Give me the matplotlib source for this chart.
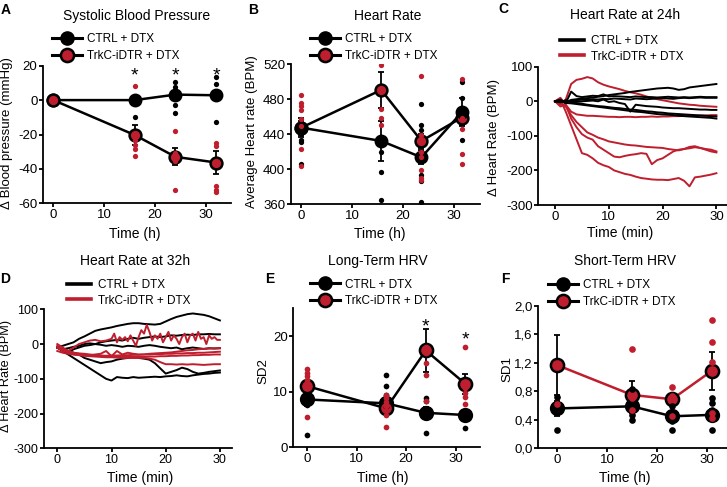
import matplotlib
matplotlib.use('Agg')
import matplotlib.pyplot as plt
from matplotlib.lines import Line2D

plt.rcParams['font.family'] = ['Liberation Sans', 'DejaVu Sans']
plt.rcParams['axes.unicode_minus'] = False

RED = '#be1e2d'
W, H = 727, 487

# ---------------- Panel A: systolic blood pressure ----------------
A_time = [0, 16, 24, 32]
A_ctrl_mean = [0, 0, 3.2, 2.8]
A_ctrl_sem = [0, 0, 0, 0]
A_trk_mean = [0, -20.3, -33.0, -36.3]
A_trk_sem = [0, 5.7, 4.9, 6.5]
A_ctrl_pts = [[], [-9.7], [10.3, 7.8, 5.5, -2.9, -7.4], [13.2, 9.3, 3.0, -12.6]]
A_trk_pts = [[], [8.2, -20, -23.3, -26.2, -28.2, -32.6], [-17.9, -31, -33.4, -35.3, -52],
             [-25.2, -26.8, -50, -52, -53.4]]
A_star_t = [16, 24, 32]
A_star_y = [17.9, 17.9, 17.9]

# ---------------- Panel B: heart rate ----------------
B_time = [0, 15.7, 23.6, 31.5]
B_ctrl_mean = [447.6, 432.4, 413.7, 465]
B_ctrl_sem = [8, 23, 8, 16]
B_trk_mean = [447.6, 490.7, 432.4, 459]
B_trk_sem = [10.5, 21, 8, 8]
B_ctrl_pts = [[447, 440, 434, 431, 406], [437, 431, 420, 397, 365],
              [475, 451, 445, 394, 387, 363], [500, 481, 468, 433]]
B_trk_pts = [[485, 476, 472, 468, 458, 449, 423, 404], [519, 469, 459, 451],
             [507, 439, 435, 432, 420, 414, 399, 390, 388], [503, 459, 446, 418, 406]]

# ---------------- Panel C: Δ heart rate at 24h ----------------
C_min = [0, 1, 2, 3, 4, 5, 6, 7, 8, 9, 10, 11, 12, 13, 14, 15, 16, 17, 18, 19, 20,
         21, 22, 23, 24, 25, 26, 27, 28, 29, 30]
C_ctrl = [
    [0, 2, -3, 4, 6, 8, 9, 11, 13, 15, 18, 20, 22, 24, 27, 29, 31, 33, 35, 37, 38, 39, 37, 33, 35, 40, 42, 44, 46, 48, 50],
    [0, 5, -5, 28, 15, 12, 14, 16, 15, 20, 14, 15, 14, 13, 12, 14, 13, 12, 12, 11, 12, 13, 12, 11, 12, 11, 12, 13, 12, 12, 12],
    [0, 2, -4, 2, 3, 5, 4, 6, 5, 7, 6, 8, 7, 6, 5, 8, 7, 6, 7, 8, 9, 8, 7, 9, 10, 9, 10, 11, 10, 10, 10],
    [0, -3, 2, -2, -1, 0, 1, 2, 0, 5, -2, 0, -5, -8, -30, -10, -12, -14, -15, -16, -18, -19, -20, -20, -21, -22, -23, -24, -24, -25, -25],
    [0, -2, 3, -3, -5, -7, -10, -12, -14, -15, -17, -19, -20, -22, -24, -25, -27, -29, -30, -32, -33, -35, -36, -37, -38, -39, -40, -41, -42, -43, -44],
    [0, 2, -5, -6, -8, -10, -12, -14, -16, -18, -20, -22, -24, -26, -28, -30, -31, -33, -35, -37, -38, -39, -40, -42, -43, -44, -45, -46, -47, -48, -50],
]
C_trk = [
    [0, -10, 5, 50, 62, 65, 70, 66, 55, 48, 43, 39, 35, 30, 26, 23, 19, 14, 10, 6, 3, 0, -3, -6, -8, -10, -11, -13, -14, -15, -16],
    [0, -15, -10, -30, -38, -40, -42, -42, -43, -44, -45, -45, -46, -45, -45, -46, -45, -45, -44, -45, -44, -44, -43, -43, -42, -42, -42, -41, -41, -40, -40],
    [0, -5, -15, -40, -60, -75, -90, -97, -105, -110, -116, -119, -122, -125, -127, -128, -130, -132, -133, -134, -135, -138, -140, -142, -138, -132, -130, -135, -140, -145, -148],
    [0, 10, -10, -50, -75, -95, -105, -111, -130, -140, -150, -160, -162, -158, -155, -153, -150, -152, -182, -170, -165, -155, -145, -140, -138, -136, -133, -135, -138, -140, -145],
    [0, 5, -30, -70, -110, -150, -155, -165, -178, -185, -190, -200, -205, -210, -213, -218, -222, -224, -226, -227, -227, -228, -225, -222, -230, -246, -220, -218, -215, -212, -208],
]

# ---------------- Panel D: Δ heart rate at 32h ----------------
D_min = C_min
D_ctrl = [
    [-10, -5, 0, 5, 15, 22, 30, 38, 42, 45, 48, 52, 55, 58, 60, 60, 58, 57, 56, 58, 65, 72, 78, 82, 86, 88, 86, 84, 80, 74, 68],
    [-10, -15, -12, -8, -5, 0, 2, 0, 5, 8, 10, 12, 10, 15, 18, 15, 18, 20, 22, 20, 22, 25, 24, 26, 27, 26, 28, 28, 29, 28, 28],
    [-10, -20, -25, -15, -10, -5, -3, 0, -2, -5, -3, -5, -8, -5, -6, -8, -5, -3, -5, -8, -10, -12, -10, -15, -12, -10, -12, -14, -12, -13, -12],
    [-10, -20, -30, -40, -50, -60, -70, -80, -90, -100, -105, -95, -97, -98, -95, -97, -96, -95, -94, -95, -93, -92, -90, -92, -93, -90, -88, -86, -85, -83, -82],
    [-10, -15, -20, -25, -30, -40, -45, -50, -55, -52, -50, -45, -42, -40, -38, -40, -42, -45, -55, -70, -85, -80, -75, -68, -72, -80, -85, -83, -80, -78, -76],
]
D_zig_min = [0, 1, 2, 3, 4, 5, 6, 7, 8, 9, 10, 10.5, 11, 11.5, 12, 12.5, 13, 13.5, 14, 14.5, 15,
             15.5, 16, 16.5, 17, 17.5, 18, 18.5, 19, 19.5, 20, 20.5, 21, 21.5, 22, 22.5, 23, 23.5,
             24, 24.5, 25, 25.5, 26, 26.5, 27, 27.5, 28, 28.5, 29, 29.5, 30]
D_zig = [-10, -15, -20, -10, 0, 5, 10, 12, 8, 10, 15, 30, 5, 20, 12, 20, 8, 25, 10, -5, 20,
         40, 30, 55, 35, 10, 25, 15, 30, 5, 20, 35, 10, 25, 15, 0, 20, 30, 5, 25, 30,
         10, 35, 15, 20, 0, 25, 15, 20, 12, 12]
D_trk = [
    [0, -10, -20, -25, -28, -30, -32, -30, -28, -20, -35, -20, -30, -25, -28, -30, -30, -28, -27, -26, -25, -24, -22, -20, -18, -17, -15, -14, -13, -12, -12],
    [-5, -15, -25, -30, -32, -34, -35, -36, -37, -38, -38, -39, -40, -40, -40, -40, -40, -42, -45, -52, -58, -58, -59, -58, -59, -58, -59, -60, -59, -58, -58],
    [-10, -20, -22, -25, -27, -28, -30, -32, -33, -34, -35, -35, -36, -36, -36, -37, -37, -36, -36, -35, -35, -34, -34, -33, -33, -32, -32, -31, -31, -30, -30],
    [-20, -25, -28, -30, -31, -32, -33, -33, -34, -34, -33, -33, -32, -32, -31, -31, -30, -30, -29, -29, -28, -28, -27, -27, -26, -26, -25, -25, -24, -23, -22],
]

# ---------------- Panel E: long-term HRV (SD2) ----------------
E_time = [0, 16, 24, 32]
E_ctrl_mean = [8.6, 7.9, 6.2, 5.8]
E_ctrl_sem = [1.2, 0.8, 1.0, 0.5]
E_trk_mean = [11.0, 7.0, 17.4, 11.4]
E_trk_sem = [1.0, 0.8, 3.8, 1.8]
E_ctrl_pts = [[7.6, 2.2], [13, 11, 9.4, 8.5, 7.3], [8.8, 8.4, 2.5], [3.4]]
E_trk_pts = [[14, 13.4, 12.8, 12.1, 10.8, 5.5], [9.4, 8.8, 8.2, 7.4, 6.7, 5.8, 3.7],
             [18.1, 17, 15.1, 13, 8.4], [18, 11.5, 10.6, 9.8, 9.1, 7.8]]
E_star_t = [24, 32]
E_star_y = [22.8, 20.5]

# ---------------- Panel F: short-term HRV (SD1) ----------------
F_time = [0, 15, 23, 31]
F_ctrl_mean = [0.56, 0.59, 0.45, 0.47]
F_ctrl_sem = [0.1, 0.1, 0.08, 0.08]
F_trk_mean = [1.17, 0.75, 0.69, 1.09]
F_trk_sem = [0.42, 0.19, 0.05, 0.27]
F_ctrl_pts = [[0.72, 0.52, 0.26], [0.84, 0.47, 0.40], [0.59, 0.38, 0.26], [0.70, 0.63, 0.54, 0.26]]
F_trk_pts = [[1.17, 0.62], [1.40, 0.70, 0.54], [0.86, 0.73, 0.46], [1.80, 1.50, 1.21, 0.49, 0.42]]
F_yticks = [0, 0.4, 0.8, 1.2, 1.6, 2.0]
F_yticklabels = ['0,0', '0,4', '0,8', '1,2', '1,6', '2,0']

CTRL_LABEL = 'CTRL + DTX'
TRK_LABEL = 'TrkC-iDTR + DTX'

fig = plt.figure(figsize=(W / 100, H / 100), dpi=100)


def px_axes(L, T, R, B, x0px, xscale, labelsize=9.5):
    ax = fig.add_axes([L / W, 1 - B / H, (R - L) / W, (B - T) / H])
    ax.set_xlim((L - x0px) / xscale, (R - x0px) / xscale)
    for s in ('top', 'right'):
        ax.spines[s].set_visible(False)
    for s in ('left', 'bottom'):
        ax.spines[s].set_linewidth(1.3)
    ax.tick_params(direction='out', length=2.8, width=1.3, labelsize=labelsize, pad=1.2)
    ax.set_xticks([0, 10, 20, 30])
    return ax


def ftext(x, y, s, **kw):
    fig.text(x / W, 1 - y / H, s, **kw)


def star(ax, x, y):
    # asterisk glyph centred on (x, y) in data coordinates
    ax.annotate('*', (x, y), xytext=(0, -8.2), textcoords='offset points',
                ha='center', va='baseline', fontsize=14)


def dot_panel(ax, t, cm, cs, tm, ts, cpts, tpts, ms_mean, ms_dot, trk_line, ctrl_top=False):
    ax.errorbar(t, cm, yerr=cs, fmt='none', ecolor='k', elinewidth=1.3, capsize=2.5,
                capthick=1.3, zorder=2)
    ax.errorbar(t, tm, yerr=ts, fmt='none', ecolor='k', elinewidth=1.3, capsize=2.5,
                capthick=1.3, zorder=2)
    ax.plot(t, cm, '-', color='k', lw=1.8, zorder=3)
    ax.plot(t, tm, '-', color=trk_line, lw=1.8, zorder=3)
    zc, zt = (5, 4) if ctrl_top else (4, 5)
    ax.plot(t, cm, 'o', ms=ms_mean, mfc='k', mec='k', mew=1.5, zorder=zc)
    ax.plot(t, tm, 'o', ms=ms_mean, mfc=RED, mec='k', mew=1.8, zorder=zt)
    for i, ti in enumerate(t):
        if cpts[i]:
            ax.plot([ti] * len(cpts[i]), cpts[i], 'o', ms=ms_dot, mfc='k', mec='none', zorder=6)
        if tpts[i]:
            ax.plot([ti] * len(tpts[i]), tpts[i], 'o', ms=ms_dot, mfc=RED, mec='none', zorder=6)


def dot_legend(ax, x, ytop, ms=9.5):
    h = [Line2D([], [], color='k', lw=2.2, marker='o', ms=ms, mfc='k', mec='k'),
         Line2D([], [], color='k', lw=2.2, marker='o', ms=ms, mfc=RED, mec='k', mew=1.8)]
    ax.legend(h, [CTRL_LABEL, TRK_LABEL], loc='upper left', bbox_to_anchor=(x / W, 1 - ytop / H),
              bbox_transform=fig.transFigure, frameon=False, fontsize=8.5, handlelength=2.5,
              handletextpad=0.45, labelspacing=0.35, borderpad=0, borderaxespad=0)


def line_legend(ax, x, ytop):
    h = [Line2D([], [], color='k', lw=2.6), Line2D([], [], color=RED, lw=2.6)]
    ax.legend(h, [CTRL_LABEL, TRK_LABEL], loc='upper left', bbox_to_anchor=(x / W, 1 - ytop / H),
              bbox_transform=fig.transFigure, frameon=False, fontsize=8.5, handlelength=2.0,
              handletextpad=0.6, labelspacing=0.3, borderpad=0, borderaxespad=0)


# ---------------- A ----------------
axA = px_axes(43, 65.7, 231, 203.3, 53.3, 5.09)
axA.set_ylim(-60, 20)
axA.set_yticks([-60, -40, -20, 0, 20])
dot_panel(axA, A_time, A_ctrl_mean, A_ctrl_sem, A_trk_mean, A_trk_sem, A_ctrl_pts, A_trk_pts,
          8.5, 3.8, 'k')
for ts, ys in zip(A_star_t, A_star_y):
    star(axA, ts, ys)
dot_legend(axA, 52, 33.5)

# ---------------- B ----------------
axB = px_axes(290.7, 64.3, 480, 204.3, 301.3, 5.09)
axB.set_ylim(360, 520)
axB.set_yticks([360, 400, 440, 480, 520])
dot_panel(axB, B_time, B_ctrl_mean, B_ctrl_sem, B_trk_mean, B_trk_sem, B_ctrl_pts, B_trk_pts,
          8.5, 3.8, 'k', ctrl_top=True)
dot_legend(axB, 310, 33.5)

# ---------------- C ----------------
axC = px_axes(538.3, 66.7, 727, 205, 555, 5.38)
axC.set_ylim(-300, 100)
axC.set_yticks([-300, -200, -100, 0, 100])
for tr in C_ctrl:
    axC.plot(C_min, tr, color='k', lw=1.4, zorder=3)
for tr in C_trk:
    axC.plot(C_min, tr, color=RED, lw=1.4, zorder=2)
line_legend(axC, 560, 35)

# ---------------- D ----------------
axD = px_axes(44, 309.3, 231.7, 448.3, 57.3, 5.42, labelsize=9)
axD.set_ylim(-300, 100)
axD.set_yticks([-300, -200, -100, 0, 100])
for tr in D_ctrl:
    axD.plot(D_min, tr, color='k', lw=1.4, zorder=2)
axD.plot(D_zig_min, D_zig, color=RED, lw=1.4, zorder=3)
for tr in D_trk:
    axD.plot(D_min, tr, color=RED, lw=1.4, zorder=3)
line_legend(axD, 67, 279)

# ---------------- E ----------------
axE = px_axes(293.3, 308.2, 480, 447.3, 307, 4.95)
axE.set_ylim(0, 25)
axE.set_yticks([0, 10, 20])
dot_panel(axE, E_time, E_ctrl_mean, E_ctrl_sem, E_trk_mean, E_trk_sem, E_ctrl_pts, E_trk_pts,
          9.5, 4.1, 'k')
for ts, ys in zip(E_star_t, E_star_y):
    star(axE, ts, ys)
dot_legend(axE, 310, 278.5)

# ---------------- F ----------------
axF = px_axes(538.3, 306, 727, 448.3, 557, 5.0)
axF.set_ylim(0, 2.0)
axF.set_yticks(F_yticks)
axF.set_yticklabels(F_yticklabels)
dot_panel(axF, F_time, F_ctrl_mean, F_ctrl_sem, F_trk_mean, F_trk_sem, F_ctrl_pts, F_trk_pts,
          9.5, 4.8, RED)
dot_legend(axF, 548, 279.5)

# ---------------- titles, letters, axis labels ----------------
tkw = dict(ha='center', va='baseline', fontsize=10)
ftext(137, 20, 'Systolic Blood Pressure', **tkw)
ftext(388, 20, 'Heart Rate', **tkw)
ftext(625, 19, 'Heart Rate at 24h', **tkw)
ftext(135, 265, 'Heart Rate at 32h', **tkw)
ftext(378, 265, 'Long-Term HRV', **tkw)
ftext(625, 265, 'Short-Term HRV', **tkw)

lkw = dict(ha='left', va='baseline', fontsize=10, fontweight='bold')
ftext(1, 13.5, 'A', **lkw)
ftext(248, 13.5, 'B', **lkw)
ftext(498, 13, 'C', **lkw)
ftext(0, 283, 'D', **lkw)
ftext(265, 283, 'E', **lkw)
ftext(501, 283, 'F', **lkw)

ykw = dict(ha='center', va='center', rotation=90, fontsize=9.5)
ftext(7, 133.5, 'Δ Blood pressure (mmHg)', **ykw)
ftext(252, 132, 'Average Heart rate (BPM)', **ykw)
ftext(494, 137.5, 'Δ Heart Rate (BPM)', **ykw)
ftext(6.5, 376, 'Δ Heart Rate (BPM)', **dict(ykw, fontsize=9.2))
ftext(263, 371, 'SD2', **ykw)
ftext(507, 369, 'SD1', **ykw)

xkw = dict(ha='center', va='baseline', fontsize=10)
ftext(135, 238, 'Time (h)', **xkw)
ftext(380, 238, 'Time (h)', **xkw)
ftext(620, 237, 'Time (min)', **xkw)
ftext(140, 482, 'Time (min)', **xkw)
ftext(383, 482, 'Time (h)', **xkw)
ftext(625, 482, 'Time (h)', **xkw)

fig.savefig('out.png', dpi=100)
